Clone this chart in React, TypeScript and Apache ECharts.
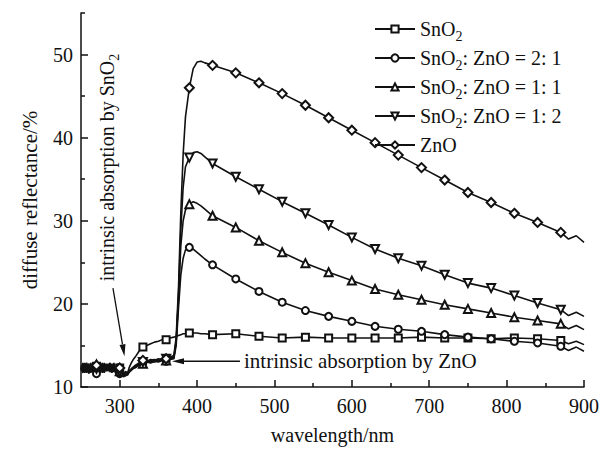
import React, { useEffect, useRef } from 'react';
import * as echarts from 'echarts';

const FONT = 'Liberation Serif';
const INK = '#111';

// wavelength grid (nm)
const wavelengths = [
  250, 252.5, 255, 257.5, 260, 262.5, 265, 267.5, 270, 272.5,
  275, 277.5, 280, 282.5, 285, 287.5, 290, 292.5, 295, 297.5,
  300, 302.5, 305, 307.5, 310, 312.5, 315, 317.5, 320,
  325, 330, 335, 340, 345, 350, 355, 360, 365, 370,
  373, 376, 379, 382, 385,
  390, 395, 400, 405, 410,
  420, 450, 480, 510, 540, 570, 600, 630, 660, 690, 720, 750, 780, 810, 840, 870,
  880, 890, 900,
];

const sno2 = [
  12.3, 11.7, 12.8, 12.0, 12.6, 11.8, 12.9, 12.2, 12.5, 11.7,
  12.7, 12.1, 12.9, 11.9, 12.6, 12.0, 12.8, 11.8, 12.4, 12.0,
  12.3, 11.6, 11.3, 11.9, 11.6, 12.4, 12.9, 13.3, 13.6,
  14.3, 14.8, 15.0, 15.2, 15.4, 15.5, 15.7, 15.7, 15.9, 16.0,
  16.1, 16.2, 16.3, 16.4, 16.4,
  16.5, 16.5, 16.5, 16.4, 16.4,
  16.3, 16.4, 16.1, 15.9, 16.0, 15.9, 15.9, 15.9, 15.9, 16.0, 15.9, 15.9, 15.8, 15.9, 15.8, 15.6,
  15.2, 15.5, 15.1,
];

const ratio21 = [
  12.0, 12.8, 11.7, 12.6, 12.1, 12.9, 11.8, 12.5, 11.6, 12.7,
  12.2, 12.9, 11.7, 12.4, 12.0, 12.8, 11.9, 12.6, 11.7, 12.3,
  11.6, 11.9, 11.2, 11.6, 11.4, 11.8, 12.0, 12.2, 12.4,
  12.7, 12.9, 13.0, 12.9, 13.1, 13.0, 13.2, 13.1, 13.3, 13.4,
  15.0, 19.5, 23.5, 25.5, 26.5,
  26.8, 26.6, 26.2, 25.8, 25.4,
  24.7, 23.0, 21.5, 20.2, 19.2, 18.5, 17.9, 17.3, 16.95, 16.7, 16.3, 16.0, 15.8, 15.5, 15.3, 14.9,
  14.4, 14.8, 14.3,
];

const ratio11 = [
  12.4, 11.8, 12.6, 12.9, 11.6, 12.3, 12.8, 11.9, 12.7, 12.2,
  12.9, 11.7, 12.5, 12.1, 12.8, 11.8, 12.2, 12.9, 12.0, 12.6,
  11.9, 11.4, 11.6, 11.3, 11.7, 11.9, 12.1, 12.3, 12.3,
  12.6, 12.8, 13.0, 13.1, 13.0, 13.2, 13.3, 13.2, 13.4, 13.5,
  15.5, 20.5, 27.0, 30.0, 31.3,
  32.0, 32.3, 32.1, 31.8, 31.4,
  30.6, 29.2, 27.6, 26.2, 24.9, 23.8, 22.8, 21.8, 21.1, 20.5, 19.9, 19.4, 18.9, 18.4, 18.0, 17.6,
  17.0, 17.4, 16.9,
];

const ratio12 = [
  12.6, 12.1, 12.9, 11.7, 12.4, 12.0, 11.8, 12.7, 12.2, 12.9,
  11.7, 12.5, 12.1, 12.8, 11.9, 12.6, 11.7, 12.4, 12.1, 12.8,
  11.8, 11.5, 11.6, 11.8, 11.7, 12.0, 12.1, 12.3, 12.5,
  12.8, 13.0, 13.1, 13.2, 13.3, 13.2, 13.4, 13.4, 13.5, 13.6,
  15.5, 21.0, 29.0, 34.0, 36.5,
  37.6, 38.2, 38.3, 38.1, 37.7,
  36.9, 35.3, 33.8, 32.3, 30.9, 29.5, 28.0, 26.6, 25.5, 24.6, 23.5, 22.5, 21.9, 21.0, 20.1, 19.3,
  18.6, 19.0, 18.5,
];

const zno = [
  12.2, 12.9, 11.8, 12.5, 12.8, 11.7, 12.4, 12.0, 12.6, 12.9,
  11.9, 12.3, 11.8, 12.7, 12.4, 12.9, 12.0, 12.3, 11.6, 12.2,
  12.3, 11.7, 11.3, 11.4, 11.6, 11.9, 12.2, 12.4, 12.6,
  12.9, 13.2, 13.1, 13.3, 13.2, 13.4, 13.3, 13.4, 13.6, 13.8,
  16.0, 22.0, 31.0, 38.0, 42.5,
  46.0, 48.3, 49.1, 49.2, 49.0,
  48.7, 47.8, 46.6, 45.3, 43.9, 42.4, 40.9, 39.4, 37.9, 36.4, 34.9, 33.4, 32.2, 30.9, 29.8, 28.6,
  27.8, 28.2, 27.4,
];

const markerWavelengths = [270, 300, 330, 360, 390, 420, 450, 480, 510, 540, 570, 600, 630, 660, 690, 720, 750, 780, 810, 840, 870];

const seriesNames = ['SnO2', 'SnO2: ZnO = 2: 1', 'SnO2: ZnO = 1: 1', 'SnO2: ZnO = 1: 2', 'ZnO'];
const seriesValues = [sno2, ratio21, ratio11, ratio12, zno];
const seriesSymbols = ['emptyRect', 'emptyCircle', 'emptyTriangle', 'emptyTriangle', 'emptyDiamond'];
const seriesSymbolRotate = [0, 0, 0, 180, 0];
const seriesSymbolSize = [7, 7, 8, 8, 9];

const xMajorTicks = [300, 400, 500, 600, 700, 800, 900];
const xMinorTicks = [350, 450, 550, 650, 750, 850];
const yMajorTicks = [10, 20, 30, 40, 50];
const yMinorTicks = [15, 25, 35, 45, 55];

// annotations (data coordinates: wavelength, reflectance)
const snArrowFrom = [291.3, 21.9];
const snArrowTo = [306.2, 13.7];
const znArrowFrom = [455.4, 13.1];
const znArrowTo = [367.6, 13.1];
const snTextAnchor = [283.6, 36.4];
const znTextAnchor = [460.6, 13.1];

export default function App() {
  const ref = useRef<HTMLDivElement>(null);

  useEffect(() => {
    if (!ref.current) return;
    const chart = echarts.init(ref.current, undefined, { renderer: 'svg' });
    const markerSet = new Set(markerWavelengths);

    const axisText = { fontFamily: FONT, fontSize: 20, color: INK };
    const xNameText = { fontFamily: FONT, fontSize: 20, color: INK, lineHeight: 20 };
    const yNameText = { fontFamily: FONT, fontSize: 21, color: INK };

    const series = seriesNames.map((name, si) => ({
      type: 'line',
      name,
      data: wavelengths.map((w, i) => {
        const item: any = { value: [w, seriesValues[si][i]] };
        if (!markerSet.has(w)) item.symbol = 'none';
        return item;
      }),
      symbol: seriesSymbols[si],
      symbolSize: seriesSymbolSize[si],
      symbolRotate: seriesSymbolRotate[si],
      showSymbol: true,
      lineStyle: { color: INK, width: 1.6 },
      itemStyle: { color: INK, borderColor: INK, borderWidth: 1.2 },
      emphasis: { disabled: true },
      silent: true,
    }));

    const option: any = {
      animation: false,
      backgroundColor: '#fff',
      grid: { left: 81, right: 29, top: 13, bottom: 62, containLabel: false, outerBoundsMode: 'none' },
      legend: {
        orient: 'vertical',
        left: 374,
        top: 19,
        padding: 0,
        itemGap: 5,
        itemWidth: 40,
        itemHeight: 9,
        selectedMode: false,
        data: seriesNames,
        formatter: (n: string) => n.replace('SnO2', 'SnO{sub|2}'),
        textStyle: {
          fontFamily: FONT,
          fontSize: 20,
          color: INK,
          lineHeight: 20,
          rich: {
            sub: { fontFamily: FONT, fontSize: 14, color: INK, padding: [14, 0, 0, 0] },
          },
        },
      },
      xAxis: [
        {
          type: 'value',
          min: 250,
          max: 900,
          interval: 50,
          position: 'bottom',
          axisLine: { lineStyle: { color: INK, width: 1.5 } },
          axisTick: { inside: true, length: 7, customValues: xMajorTicks, lineStyle: { color: INK, width: 1.5 } },
          axisLabel: {
            ...axisText,
            margin: 9,
            customValues: xMajorTicks,
            formatter: (v: number) => (v % 100 === 0 ? String(v) : ''),
          },
          splitLine: { show: false },
          name: 'wavelength/nm',
          nameLocation: 'middle',
          nameGap: 38,
          nameTextStyle: xNameText,
        },
        {
          type: 'value',
          min: 250,
          max: 900,
          interval: 50,
          position: 'bottom',
          axisLine: { show: false },
          axisTick: { inside: true, length: 4, customValues: xMinorTicks, lineStyle: { color: INK, width: 1.5 } },
          axisLabel: { show: false },
          splitLine: { show: false },
        },
      ],
      yAxis: [
        {
          type: 'value',
          min: 10,
          max: 55,
          interval: 5,
          position: 'left',
          axisLine: { show: true, lineStyle: { color: INK, width: 1.5 } },
          axisTick: { show: true, inside: true, length: 7, customValues: yMajorTicks, lineStyle: { color: INK, width: 1.5 } },
          axisLabel: {
            ...axisText,
            margin: 8,
            customValues: yMajorTicks,
            formatter: (v: number) => (v % 10 === 0 && v <= 50 ? String(v) : ''),
          },
          splitLine: { show: false },
          name: 'diffuse reflectance/%',
          nameLocation: 'middle',
          nameGap: 41,
          nameTextStyle: yNameText,
        },
        {
          type: 'value',
          min: 10,
          max: 55,
          interval: 5,
          position: 'left',
          axisLine: { show: false },
          axisTick: { show: true, inside: true, length: 4, customValues: yMinorTicks, lineStyle: { color: INK, width: 1.5 } },
          axisLabel: { show: false },
          splitLine: { show: false },
        },
      ],
      series,
    };

    chart.setOption(option);

    const px = (d: number[]) => chart.convertToPixel({ seriesIndex: 0 }, d) as number[];

    const arrow = (from: number[], to: number[]) => {
      const a = px(from);
      const b = px(to);
      const dx = b[0] - a[0];
      const dy = b[1] - a[1];
      const len = Math.sqrt(dx * dx + dy * dy) || 1;
      const ux = dx / len;
      const uy = dy / len;
      const L = 12;
      const H = 3;
      const bx = b[0] - ux * L;
      const by = b[1] - uy * L;
      return [
        { type: 'line', silent: true, shape: { x1: a[0], y1: a[1], x2: bx, y2: by }, style: { stroke: INK, lineWidth: 1.3 } },
        {
          type: 'polygon',
          silent: true,
          shape: { points: [[b[0], b[1]], [bx - uy * H, by + ux * H], [bx + uy * H, by - ux * H]] },
          style: { fill: INK },
        },
      ];
    };

    const snT = px(snTextAnchor);
    const znT = px(znTextAnchor);

    chart.setOption({
      graphic: [
        ...arrow(snArrowFrom, snArrowTo),
        ...arrow(znArrowFrom, znArrowTo),
        {
          type: 'text',
          silent: true,
          x: snT[0],
          y: snT[1],
          rotation: Math.PI / 2,
          style: {
            text: 'intrinsic absorption by SnO{sub|2}',
            fontFamily: FONT,
            fontSize: 20,
            fill: INK,
            align: 'center',
            verticalAlign: 'middle',
            lineHeight: 20,
            rich: { sub: { fontFamily: FONT, fontSize: 14, fill: INK, padding: [14, 0, 0, 0] } },
          },
        },
        {
          type: 'text',
          silent: true,
          x: znT[0],
          y: znT[1],
          style: {
            text: 'intrinsic absorption by ZnO',
            fontFamily: FONT,
            fontSize: 21,
            fill: INK,
            align: 'left',
            verticalAlign: 'middle',
          },
        },
      ],
    });

    return () => chart.dispose();
  }, []);

  return (
    <div
      ref={ref}
      style={{ position: 'fixed', left: 0, top: 0, width: 613, height: 449, background: '#fff' }}
    />
  );
}
